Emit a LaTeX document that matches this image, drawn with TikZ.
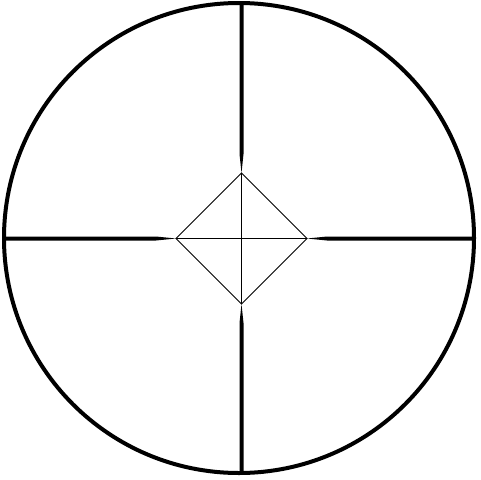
\documentclass[tikz,border=0pt]{standalone}
\usepackage{tikz}

\begin{document}
\begin{tikzpicture}[x=0.02cm,y=-0.02cm,
		rim/.style={line width=0.08cm},
		hair/.style={line width=0.02cm},
		post/.style={fill=black}]
		%边界
		\useasboundingbox (0,0) rectangle (480,480);
		%定义中心与菱形顶点
		\coordinate (C) at (239,238);
		\coordinate (T) at (241.5,173);
		\coordinate (R) at (307,238.5);
		\coordinate (B) at (241.5,304);
		\coordinate (L) at (176,238.5);
		
		%外圈
		\draw[rim] (C) circle (235);
		
		%粗线
		\fill[post] (5,236.5) -- (156,236.5) -- (L) -- (156,240.5) -- (5,240.5) -- cycle;
		\fill[post] (473,236.5) -- (327,236.5) -- (R) -- (327,240.5) -- (473,240.5) -- cycle;
		\fill[post] (239.5,4) -- (239.5,154) -- (T) -- (243.5,154) -- (243.5,4) -- cycle;
		\fill[post] (239.5,472) -- (239.5,323) -- (B) -- (243.5,323) -- (243.5,472) -- cycle;
		
		%细线与菱形
		\draw[hair] (T) -- (R) -- (B) -- (L) -- cycle;
		\draw[hair] (T) -- (B);
		\draw[hair] (L) -- (R);
	\end{tikzpicture}
\end{document}
